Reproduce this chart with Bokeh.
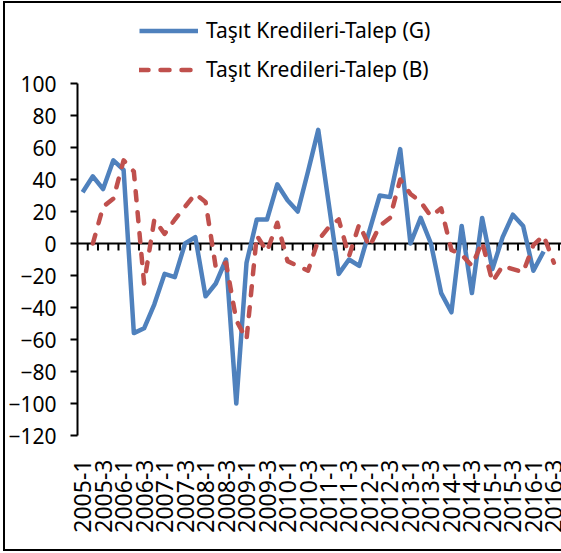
import math
from bokeh.plotting import figure
from bokeh.models import Range1d, FixedTicker, Legend, LegendItem, ColumnDataSource
from bokeh.embed import file_html
from bokeh.resources import INLINE

nan = float("nan")

# Quarters 2005-1 ... 2016-4
years = list(range(2005, 2017))
quarters = [1, 2, 3, 4]
categories = [f"{y}-{q}" for y in years for q in quarters]

# Taşıt Kredileri-Talep (G)
talep_g = [32, 42, 34, 52, 46, -56, -53, -38, -19, -21,
           0, 4, -33, -25, -10, -100, -12, 15, 15, 37,
           27, 20, 45, 71, 26, -19, -10, -14, 8, 30,
           29, 59, 0, 16, 0, -31, -43, 11, -31, 16,
           -16, 4, 18, 11, -17, -5, nan, nan]

# Taşıt Kredileri-Talep (B)
talep_b = [nan, 0, 23, 28, 52, 45, -25, 15, 6, 15,
           23, 31, 26, -15, -12, -48, -60, 5, -5, 13,
           -11, -14, -17, 2, 10, 15, -8, 12, -2, 11,
           16, 40, 31, 26, 17, 22, -4, -7, -14, 1,
           -24, -14, -16, -18, -1, 5, -12, nan]

y_ticks = [-120, -100, -80, -60, -40, -20, 0, 20, 40, 60, 80, 100]
series_names = ["Taşıt Kredileri-Talep (G)", "Taşıt Kredileri-Talep (B)"]

FONT = "Noto Sans"
BLUE = "#4F81BD"
RED = "#C0504D"

idx = list(range(len(categories)))
src = ColumnDataSource(dict(x=idx, g=talep_g, b=talep_b))

p = figure(width=558, height=550, output_backend="svg", toolbar_location=None,
           x_range=Range1d(-0.5, 46.94), y_range=Range1d(y_ticks[0], 150),
           min_border_left=66, min_border_right=0, min_border_top=0, min_border_bottom=118,
           styles={"margin-left": "3px", "margin-top": "1px",
                   "border": "2px solid black",
                   "border-right": "0px none"})
p.outline_line_color = None
p.xgrid.visible = False
p.ygrid.visible = False
p.background_fill_color = "white"
p.border_fill_color = None

# y axis
p.yaxis.ticker = FixedTicker(ticks=y_ticks)
p.yaxis.bounds = (y_ticks[0], y_ticks[-1])
p.yaxis.axis_line_color = "black"
p.yaxis.axis_line_width = 2
p.yaxis.major_tick_line_color = "black"
p.yaxis.major_tick_line_width = 2
p.yaxis.major_tick_out = 7
p.yaxis.major_tick_in = 0
p.yaxis.minor_tick_line_color = None
p.yaxis.major_label_standoff = 14
p.yaxis.major_label_text_font = FONT
p.yaxis.major_label_text_font_size = "21px"
p.yaxis.major_label_text_color = "black"

# x axis (labels at the bottom, every 2nd quarter)
label_idx = idx[::2]
p.xaxis.ticker = FixedTicker(ticks=label_idx)
p.xaxis.major_label_overrides = {i: categories[i] for i in label_idx}
p.xaxis.major_label_orientation = math.pi / 2
p.xaxis.axis_line_color = None
p.xaxis.major_tick_line_color = None
p.xaxis.minor_tick_line_color = None
p.xaxis.major_label_standoff = 18
p.xaxis.major_label_text_font = FONT
p.xaxis.major_label_text_font_size = "23px"
p.xaxis.major_label_text_color = "black"

# zero line with category tick marks
p.segment(x0=[-0.5], x1=[len(categories)], y0=[0], y1=[0], line_color="black", line_width=2)
bounds = [i + 0.5 for i in idx]
p.segment(x0=bounds, x1=bounds, y0=[0] * len(bounds), y1=[-4.4] * len(bounds),
          line_color="black", line_width=2)

r_g = p.line("x", "g", source=src, line_color=BLUE, line_width=4.5, line_join="round")
r_b = p.line("x", "b", source=src, line_color=RED, line_width=4.5, line_join="round",
             line_dash="9 12", line_cap="round")

legend = Legend(items=[LegendItem(label=series_names[0], renderers=[r_g]),
                       LegendItem(label=series_names[1], renderers=[r_b])],
                location=(62, 346.5), orientation="vertical",
                glyph_width=59, glyph_height=39, spacing=0, padding=0, margin=0,
                label_standoff=8, label_text_font=FONT, label_text_font_size="21px",
                label_text_color="black", border_line_color=None,
                background_fill_alpha=0)
p.add_layout(legend, "center")

open("out.html", "w").write(file_html(p, INLINE))
